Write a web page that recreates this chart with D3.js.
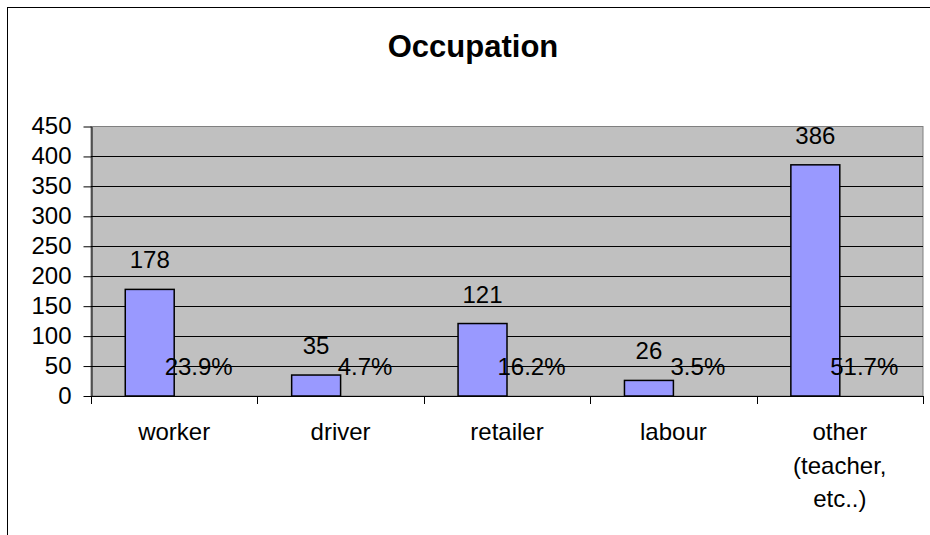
<!DOCTYPE html>
<html>
<head>
<meta charset="utf-8">
<script src="https://cdn.jsdelivr.net/npm/d3@7"></script>
<style>
  html, body { margin: 0; padding: 0; background: #fff; }
  svg { display: block; font-family: "Liberation Sans", Arial, sans-serif; }
</style>
</head>
<body>
<svg id="chart" width="930" height="535"></svg>
<script>
// ─── Data ────────────────────────────────────────────────────
const categories = ["worker", "driver", "retailer", "labour", "other\n(teacher,\netc..)"];
const counts = [178, 35, 121, 26, 386];
const percents = ["23.9%", "4.7%", "16.2%", "3.5%", "51.7%"];
const yTicks = [0, 50, 100, 150, 200, 250, 300, 350, 400, 450];

const W = 930, H = 535;
const plot = { left: 91, right: 923, top: 126.5, bottom: 396 };

const svg = d3.select("#chart");

// outer chart frame (cut off at the right and bottom)
svg.append("rect")
  .attr("x", 7.5).attr("y", 7.5)
  .attr("width", W + 10).attr("height", H + 10)
  .attr("fill", "#fff").attr("stroke", "#000").attr("stroke-width", 1);

// ─── Scales ──────────────────────────────────────────────────
const x = d3.scaleBand().domain(categories).range([plot.left, plot.right]).padding(0);
const xs = d3.scaleBand().domain(["count", "pct"]).range([0, x.bandwidth()])
  .paddingInner(0).paddingOuter(0.7);
const y = d3.scaleLinear().domain([0, 450]).range([plot.bottom, plot.top]);

// ─── Plot area ───────────────────────────────────────────────
svg.append("rect")
  .attr("x", plot.left).attr("y", plot.top)
  .attr("width", plot.right - plot.left).attr("height", plot.bottom - plot.top)
  .attr("fill", "#c0c0c0").attr("stroke", "#808080").attr("stroke-width", 1);

svg.append("g")
  .selectAll("line")
  .data(yTicks.filter((d) => d > 0 && d < 450))
  .join("line")
  .attr("x1", plot.left).attr("x2", plot.right)
  .attr("y1", (d) => Math.round(y(d)) + 0.5).attr("y2", (d) => Math.round(y(d)) + 0.5)
  .attr("stroke", "#000").attr("stroke-width", 1);

// ─── Bars ────────────────────────────────────────────────────
svg.append("g")
  .selectAll("rect")
  .data(counts)
  .join("rect")
  .attr("x", (d, i) => x(categories[i]) + xs("count"))
  .attr("y", (d) => y(d))
  .attr("width", xs.bandwidth())
  .attr("height", (d) => y(0) - y(d))
  .attr("fill", "#9999ff").attr("stroke", "#000").attr("stroke-width", 1.5);

// ─── Axes ────────────────────────────────────────────────────
const yAxis = svg.append("g")
  .attr("transform", `translate(${plot.left + 0.5},0)`)
  .call(d3.axisLeft(y).tickValues(yTicks).tickSize(8).tickPadding(12).tickSizeOuter(0));
yAxis.select(".domain").attr("stroke", "#000");
yAxis.selectAll(".tick text").attr("font-size", 24).attr("fill", "#000")
  .attr("font-family", "Liberation Sans, Arial, sans-serif").attr("dy", "0.3em");

svg.append("line")
  .attr("x1", plot.left).attr("x2", plot.right)
  .attr("y1", plot.bottom + 0.5).attr("y2", plot.bottom + 0.5)
  .attr("stroke", "#000");

const boundaries = categories.map((c) => x(c)).concat([plot.right]);
svg.append("g")
  .selectAll("line")
  .data(boundaries)
  .join("line")
  .attr("x1", (d) => Math.round(d) + 0.5).attr("x2", (d) => Math.round(d) + 0.5)
  .attr("y1", plot.bottom).attr("y2", plot.bottom + 8)
  .attr("stroke", "#000");

const catLabels = svg.append("g")
  .selectAll("text")
  .data(categories)
  .join("text")
  .attr("x", (d) => x(d) + x.bandwidth() / 2)
  .attr("y", 440)
  .attr("text-anchor", "middle")
  .attr("font-size", 24)
  .attr("fill", "#000");
catLabels.each(function (d) {
  d3.select(this).selectAll("tspan")
    .data(d.split("\n"))
    .join("tspan")
    .attr("x", x(d) + x.bandwidth() / 2)
    .attr("dy", (t, i) => (i === 0 ? 0 : 33.5))
    .text((t) => t);
});

// ─── Data labels ─────────────────────────────────────────────
svg.append("g")
  .selectAll("text")
  .data(counts)
  .join("text")
  .attr("x", (d, i) => x(categories[i]) + xs("count") + xs.bandwidth() / 2)
  .attr("y", (d) => y(d) - 21)
  .attr("text-anchor", "middle")
  .attr("font-size", 24)
  .attr("fill", "#000")
  .text((d) => d);

svg.append("g")
  .selectAll("text")
  .data(percents)
  .join("text")
  .attr("x", (d, i) => x(categories[i]) + xs("pct") + xs.bandwidth() / 2)
  .attr("y", y(0) - 21)
  .attr("text-anchor", "middle")
  .attr("font-size", 24)
  .attr("fill", "#000")
  .text((d) => d);

// ─── Title ───────────────────────────────────────────────────
svg.append("text")
  .attr("x", 473).attr("y", 57)
  .attr("text-anchor", "middle")
  .attr("font-size", 31)
  .attr("font-weight", "bold")
  .attr("fill", "#000")
  .text("Occupation");
</script>
</body>
</html>
